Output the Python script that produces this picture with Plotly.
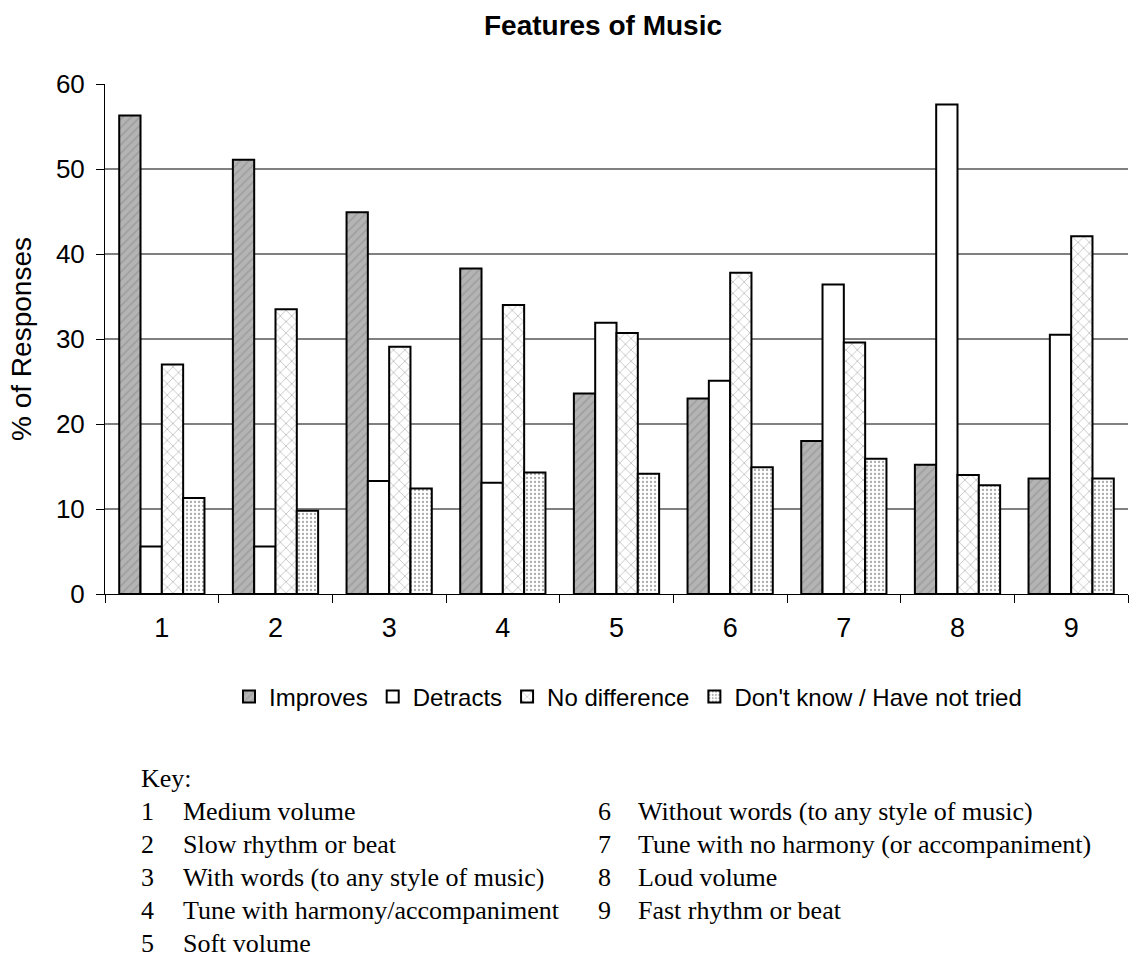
import plotly.graph_objects as go

categories = ["1", "2", "3", "4", "5", "6", "7", "8", "9"]
improves = [56.3, 51.1, 44.9, 38.3, 23.6, 23.0, 18.0, 15.2, 13.6]
detracts = [5.6, 5.6, 13.3, 13.1, 31.9, 25.1, 36.4, 57.6, 30.5]
no_difference = [27.0, 33.5, 29.1, 34.0, 30.7, 37.8, 29.6, 14.0, 42.1]
dont_know = [11.3, 9.8, 12.4, 14.3, 14.15, 14.9, 15.9, 12.8, 13.6]
series_names = ["Improves", "Detracts", "No difference", "Don't know / Have not tried"]

key_left = ["Medium volume", "Slow rhythm or beat", "With words (to any style of music)",
            "Tune with harmony/accompaniment", "Soft volume"]
key_right = ["Without words (to any style of music)", "Tune with no harmony (or accompaniment)",
             "Loud volume", "Fast rhythm or beat"]

W, H = 1132, 961
L, R, T, B = 105, 1128, 84, 594

patterns = [
    dict(shape="/", bgcolor="#b4b4b4", fgcolor="#8a8a8a", size=6, solidity=0.3),
    dict(shape="", bgcolor="white"),
    dict(shape="x", bgcolor="white", fgcolor="#555555", size=8, solidity=0.15),
    dict(shape=".", bgcolor="white", fgcolor="#555555", size=4, solidity=0.25),
]
fills = ["#b4b4b4", "white", "white", "white"]

fig = go.Figure()
for name, vals, pat, fc in zip(series_names, [improves, detracts, no_difference, dont_know], patterns, fills):
    fig.add_trace(go.Bar(
        x=categories, y=vals, name=name,
        marker=dict(color=fc, pattern=pat, line=dict(color="black", width=2)),
    ))

fig.update_layout(
    width=W, height=H,
    margin=dict(l=L, r=W - R, t=T, b=H - B, autoexpand=False),
    paper_bgcolor="white", plot_bgcolor="white",
    barmode="group", bargap=0.25, bargroupgap=0,
    font=dict(family="Liberation Sans, Arial", size=24, color="black"),
    title=dict(text="<b>Features of Music</b>", x=603 / W, xanchor="center",
               y=1 - 25 / H, yanchor="middle",
               font=dict(family="Liberation Sans, Arial", size=28, color="black")),
    legend=dict(orientation="h", x=(628 - L) / (R - L), xanchor="center",
                y=(B - 697) / (B - T), yanchor="middle",
                font=dict(size=24), itemwidth=30, traceorder="normal",
                bgcolor="rgba(0,0,0,0)"),
    showlegend=True,
)
fig.update_yaxes(
    range=[0, 60], dtick=10, showgrid=True, gridcolor="#808080", gridwidth=1.5,
    showline=True, linecolor="black", linewidth=1, ticks="outside", ticklen=8,
    tickcolor="black", zeroline=False, ticklabelstandoff=6,
    title=dict(text="% of Responses", font=dict(size=28), standoff=16),
    tickfont=dict(size=26),
)
fig.update_xaxes(
    showline=True, linecolor="black", linewidth=1, ticks="outside", ticklen=8,
    tickcolor="black", tickson="boundaries", showgrid=False, ticklabelstandoff=10,
    tickfont=dict(size=27),
)

def px_x(px):
    return (px - L) / (R - L)

def px_y(py):
    return (B - py) / (B - T)

serif = dict(family="Liberation Serif, Times New Roman", size=26, color="black")
fig.add_annotation(text="Key:", x=px_x(139), y=px_y(778), xref="paper", yref="paper",
                   xanchor="left", yanchor="middle", showarrow=False, font=serif)
for i, label in enumerate(key_left):
    yy = px_y(811 + 33 * i)
    fig.add_annotation(text=str(i + 1), x=px_x(139), y=yy, xref="paper", yref="paper",
                       xanchor="left", yanchor="middle", showarrow=False, font=serif)
    fig.add_annotation(text=label, x=px_x(181), y=yy, xref="paper", yref="paper",
                       xanchor="left", yanchor="middle", showarrow=False, font=serif)
for i, label in enumerate(key_right):
    yy = px_y(811 + 33 * i)
    fig.add_annotation(text=str(i + 6), x=px_x(596), y=yy, xref="paper", yref="paper",
                       xanchor="left", yanchor="middle", showarrow=False, font=serif)
    fig.add_annotation(text=label, x=px_x(636), y=yy, xref="paper", yref="paper",
                       xanchor="left", yanchor="middle", showarrow=False, font=serif)

fig.write_html("out.html", config={"displayModeBar": False},
               post_script="document.body.style.margin='0';")
